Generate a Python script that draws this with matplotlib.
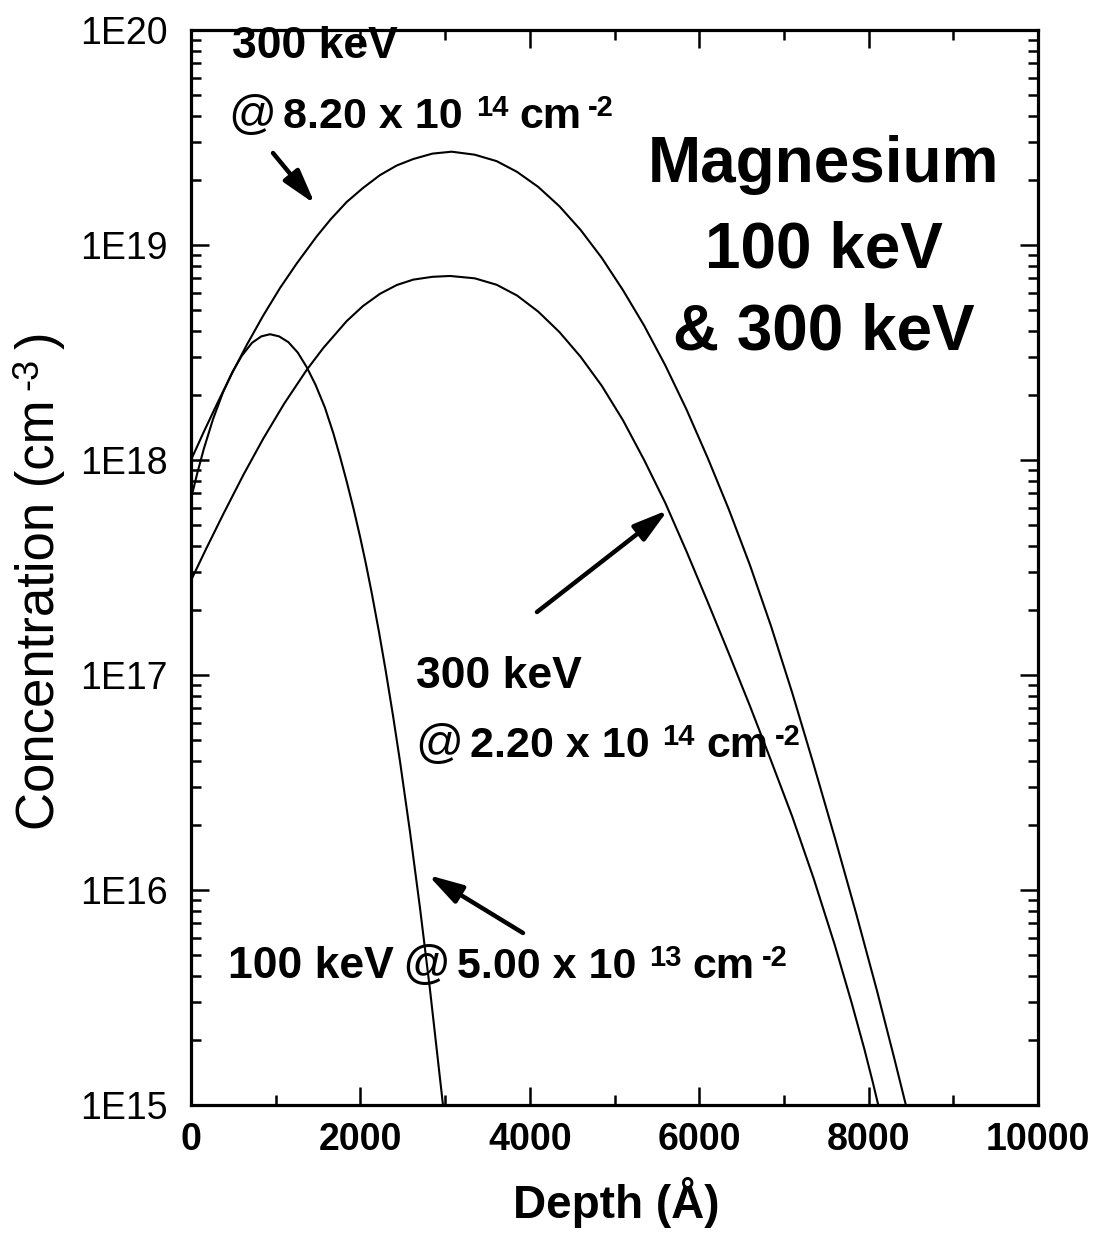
import matplotlib
matplotlib.use("Agg")
import matplotlib.pyplot as plt
from matplotlib.transforms import IdentityTransform
from matplotlib.ticker import FixedLocator, FixedFormatter, NullFormatter
import numpy as np

# ---------------- data ----------------
depth_300_high = [0, 150, 300, 480, 658, 850, 1051, 1250, 1484, 1650, 1838, 2030,
                  2231, 2430, 2625, 2850, 3078, 3350, 3609, 3850, 4100, 4350,
                  4600, 4850, 5100, 5350, 5600, 5850, 6100, 6350, 6600, 6850,
                  7100, 7350, 7600, 7850, 8100, 8300, 8440]
logc_300_high = [18.00, 18.13, 18.255, 18.40, 18.535, 18.67, 18.80, 18.915, 19.04,
                 19.12, 19.20, 19.265, 19.325, 19.37, 19.40, 19.425, 19.434, 19.42,
                 19.39, 19.34, 19.27, 19.18, 19.07, 18.94, 18.79, 18.625, 18.44,
                 18.235, 18.01, 17.77, 17.51, 17.225, 16.915, 16.585, 16.245,
                 15.895, 15.53, 15.222, 15.0]

depth_300_low = [0, 180, 382, 620, 854, 1100, 1366, 1562, 1838, 2030, 2231, 2430,
                 2625, 2850, 3058, 3350, 3609, 3850, 4100, 4350, 4600, 4850, 5100,
                 5350, 5600, 5850, 6100, 6350, 6600, 6850, 7100, 7350, 7600, 7800,
                 7950, 8050, 8120]
logc_300_low = [17.44, 17.588, 17.749, 17.932, 18.10, 18.262, 18.419, 18.521,
                18.646, 18.716, 18.773, 18.814, 18.839, 18.852, 18.856, 18.845,
                18.815, 18.765, 18.69, 18.595, 18.48, 18.345, 18.185, 18.0, 17.80,
                17.575, 17.34, 17.10, 16.855, 16.60, 16.34, 16.055, 15.745, 15.475,
                15.26, 15.105, 14.99]

depth_100 = [0, 75, 150, 260, 378, 490, 600, 720, 830, 933, 1040, 1150, 1260,
             1366, 1470, 1580, 1680, 1760, 1838, 1920, 1995, 2065, 2133, 2220,
             2300, 2385, 2468, 2586, 2704, 2822, 2975]
logc_100 = [17.82, 17.94, 18.05, 18.19, 18.315, 18.41, 18.485, 18.545, 18.575,
            18.585, 18.575, 18.548, 18.50, 18.432, 18.35, 18.245, 18.125, 18.015,
            17.90, 17.772, 17.645, 17.517, 17.383, 17.199, 17.017, 16.811, 16.597,
            16.269, 15.915, 15.535, 15.0]

x_major = [0, 2000, 4000, 6000, 8000, 10000]
x_minor = [1000, 3000, 5000, 7000, 9000]
y_major = [1e15, 1e16, 1e17, 1e18, 1e19, 1e20]
y_labels = ["1E15", "1E16", "1E17", "1E18", "1E19", "1E20"]

# ---------------- fonts ----------------
FONT = "Liberation Sans"
plt.rcParams["font.family"] = [FONT, "DejaVu Sans"]

W, H = 1098, 1239
fig = plt.figure(figsize=(W / 100, H / 100), dpi=100)
L, R, T, B = 191, 1038, 30, 1105
ax = fig.add_axes([L / W, 1 - B / H, (R - L) / W, (B - T) / H])

for xs, ls in [(depth_300_high, logc_300_high), (depth_300_low, logc_300_low),
               (depth_100, logc_100)]:
    ax.plot(xs, 10.0 ** np.array(ls, dtype=float), color="black", lw=1.5,
            solid_joinstyle="round")

ax.set_yscale("log")
ax.set_xlim(0, 10000)
ax.set_ylim(1e15, 1e20)

ax.xaxis.set_major_locator(FixedLocator(x_major))
ax.xaxis.set_minor_locator(FixedLocator(x_minor))
ax.set_xticklabels([str(v) for v in x_major], fontweight="bold", fontsize=27)
ax.yaxis.set_major_locator(FixedLocator(y_major))
minors = [float(m) * 10.0 ** e for e in range(15, 20) for m in range(2, 10)]
ax.yaxis.set_minor_locator(FixedLocator(minors))
ax.yaxis.set_major_formatter(FixedFormatter(y_labels))
ax.yaxis.set_minor_formatter(NullFormatter())
for lab in ax.get_yticklabels():
    lab.set_fontsize(27)

ax.tick_params(which="both", direction="in", top=True, right=True, width=1.8,
               colors="black")
ax.tick_params(which="major", length=13)
ax.tick_params(which="minor", length=7)
ax.tick_params(axis="x", which="major", pad=12)
ax.tick_params(axis="y", which="major", pad=17)
for sp in ax.spines.values():
    sp.set_linewidth(2.3)

renderer = fig.canvas.get_renderer()


def runs(px, py, parts):
    """Write a line of text made of pieces, left to right, from pixel (px, py)."""
    x = px
    for s, size, weight, rise, gap in parts:
        t = fig.text(x, H - py + rise, s, fontsize=size, fontweight=weight,
                     transform=IdentityTransform(), ha="left", va="baseline")
        x = t.get_window_extent(renderer).x1 + gap


def runs_up(px, py, parts):
    """Same, rotated 90 degrees: baseline at x=px, text running upward from py."""
    y = H - py
    for s, size, weight, rise, gap in parts:
        t = fig.text(px - rise, y, s, fontsize=size, fontweight=weight,
                     rotation=90, rotation_mode="anchor",
                     transform=IdentityTransform(), ha="left", va="baseline")
        y = t.get_window_extent(renderer).y1 + gap


# axis labels
runs_up(54, 830, [("Concentration (cm", 38, "normal", 0, 9),
                  ("-3", 26, "normal", 17, 9), (")", 38, "normal", 0, 0)])
fig.text(616, H - 1203, "Depth (Å)", ha="center", va="center", fontsize=33,
         fontweight="bold", transform=IdentityTransform())

BODY, SUP, AT = 31, 21, 34
runs(232, 58, [("300 keV", 32, "bold", 0, 0)])
runs(228, 128, [("@", AT, "normal", 0, 7), ("8.20 x 10", BODY, "bold", 0, 13),
                ("14", SUP, "bold", 12, 11), ("cm", BODY, "bold", 0, 7),
                ("-2", SUP, "bold", 12, 0)])
runs(416, 688, [("300 keV", 32, "bold", 0, 0)])
runs(415, 757, [("@", AT, "normal", 0, 7), ("2.20 x 10", BODY, "bold", 0, 13),
                ("14", SUP, "bold", 12, 11), ("cm", BODY, "bold", 0, 7),
                ("-2", SUP, "bold", 12, 0)])
runs(228, 978, [("100 keV", BODY + 1, "bold", 0, 8), ("@", AT, "normal", 0, 7),
                ("5.00 x 10", BODY, "bold", 0, 13), ("13", SUP, "bold", 12, 11),
                ("cm", BODY, "bold", 0, 7), ("-2", SUP, "bold", 12, 0)])

for txt, py in [("Magnesium", 182), ("100 keV", 267), ("& 300 keV", 350)]:
    fig.text(824, H - py, txt, fontsize=46, fontweight="bold", ha="center",
             va="baseline", transform=IdentityTransform())


def af(px, py):
    return ((px - L) / (R - L), 1 - (py - T) / (B - T))


arrow = dict(arrowstyle="-|>,head_length=0.7,head_width=0.2", lw=3.2,
             color="black", mutation_scale=30, shrinkA=0, shrinkB=0)
for tail, head in [((273, 153), (315, 204)), ((537, 612), (668, 510)),
                   ((523, 933), (428, 875))]:
    ax.annotate("", xy=af(*head), xytext=af(*tail), xycoords="axes fraction",
                textcoords="axes fraction", arrowprops=arrow)

fig.savefig("out.png", dpi=100)
